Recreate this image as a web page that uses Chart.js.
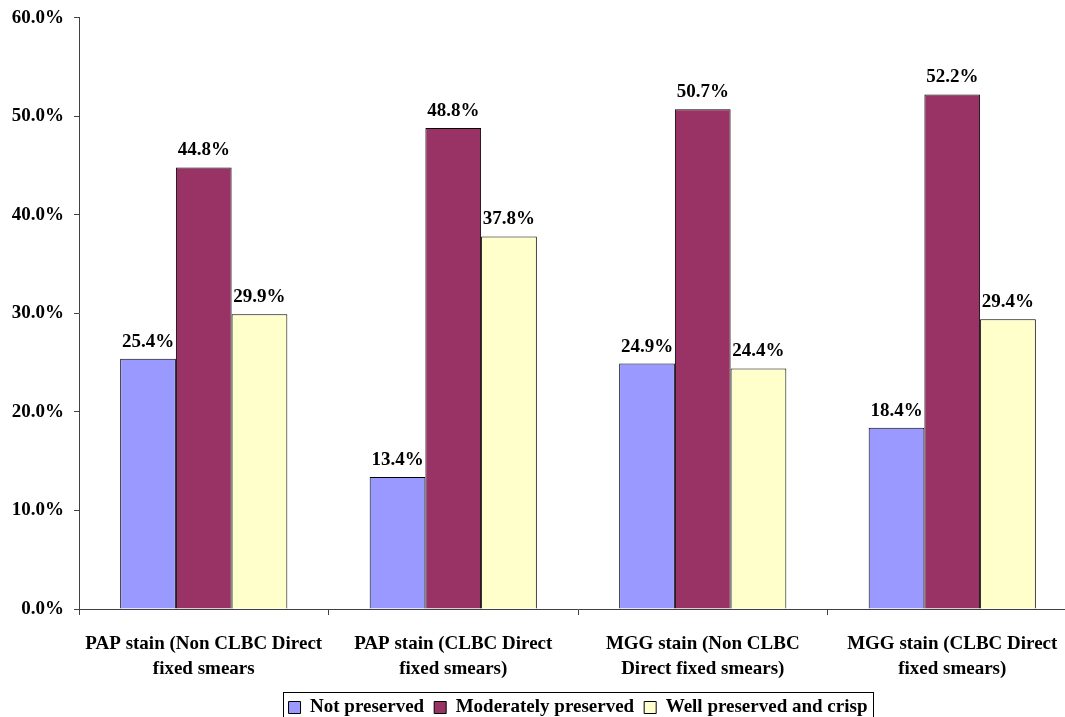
<!DOCTYPE html>
<html>
<head>
<meta charset="utf-8">
<script src="https://cdn.jsdelivr.net/npm/chart.js@4.4.1/dist/chart.umd.min.js"></script>
<style>
  html, body { margin: 0; padding: 0; background: #fff; overflow: hidden; }
  #wrap { width: 1080px; height: 717px; position: relative; }
</style>
</head>
<body>
<div id="wrap"><canvas id="chart"></canvas></div>
<script>
const categories = [
  ["PAP stain (Non CLBC Direct", "fixed smears"],
  ["PAP stain (CLBC Direct", "fixed smears)"],
  ["MGG stain (Non CLBC", "Direct fixed smears)"],
  ["MGG stain (CLBC Direct", "fixed smears)"],
]
const notPreserved = [25.4, 13.4, 24.9, 18.4]
const moderatelyPreserved = [44.8, 48.8, 50.7, 52.2]
const wellPreserved = [29.9, 37.8, 24.4, 29.4]
const yTicks = [0, 10, 20, 30, 40, 50, 60]

const FONT = "'Liberation Serif', 'Times New Roman', serif"
const AXIS = "#404040"

// value labels above each bar
const valueLabels = {
  id: "valueLabels",
  afterDatasetsDraw(chart) {
    const ctx = chart.ctx
    ctx.save()
    ctx.font = `bold 19px ${FONT}`
    ctx.fillStyle = "#000"
    ctx.textAlign = "center"
    ctx.textBaseline = "alphabetic"
    chart.data.datasets.forEach((ds, i) => {
      chart.getDatasetMeta(i).data.forEach((bar, j) => {
        ctx.fillText(ds.data[j].toFixed(1) + "%", bar.x, bar.y - 12)
      })
    })
    ctx.restore()
  },
}

// frame around the legend
const legendFrame = {
  id: "legendFrame",
  afterDraw(chart) {
    const hit = chart.legend.legendHitBoxes
    if (!hit || !hit.length) return
    const last = hit[hit.length - 1]
    const left = hit[0].left - 6
    const right = last.left + last.width + 5
    const top = hit[0].top - 6
    const ctx = chart.ctx
    ctx.save()
    ctx.strokeStyle = "#000"
    ctx.lineWidth = 1
    ctx.strokeRect(Math.round(left) + 0.5, Math.round(top) + 0.5, Math.round(right - left), 40)
    ctx.restore()
  },
}

new Chart(document.getElementById("chart"), {
  type: "bar",
  data: {
    labels: categories,
    datasets: [
      { label: "Not preserved", data: notPreserved, backgroundColor: "#9999FF" },
      { label: "Moderately preserved", data: moderatelyPreserved, backgroundColor: "#993366" },
      { label: "Well preserved and crisp", data: wellPreserved, backgroundColor: "#FFFFCC" },
    ].map((ds) => ({ ...ds, borderColor: "#000", borderWidth: 1, categoryPercentage: 0.67, barPercentage: 1 })),
  },
  options: {
    responsive: true,
    maintainAspectRatio: false,
    animation: false,
    layout: { padding: { top: 17, right: 3, left: 0, bottom: -10 } },
    plugins: {
      tooltip: { enabled: false },
      legend: {
        position: "bottom",
        fullSize: false,
        labels: {
          color: "#000",
          font: { family: FONT, size: 19, weight: "bold" },
          boxWidth: 12,
          boxHeight: 12,
          padding: 10,
        },
      },
    },
    scales: {
      x: {
        grid: { display: true, drawOnChartArea: false, offset: true, tickLength: 6, color: AXIS },
        border: { color: AXIS },
        ticks: { color: "#000", font: { family: FONT, size: 19, weight: "bold", lineHeight: 1.3 }, maxRotation: 0, padding: 17 },
        afterFit: (scale) => { scale.height = 79 },
      },
      y: {
        min: 0,
        max: 60,
        afterBuildTicks: (scale) => { scale.ticks = yTicks.map((v) => ({ value: v })) },
        grid: { display: true, drawOnChartArea: false, tickLength: 5, color: AXIS },
        border: { color: AXIS },
        ticks: { color: "#000", padding: 10, font: { family: FONT, size: 19, weight: "bold", lineHeight: 0.8 }, callback: (v) => v.toFixed(1) + "%" },
        afterFit: (scale) => { scale.width = 79 },
      },
    },
  },
  plugins: [valueLabels, legendFrame],
})
</script>
</body>
</html>
